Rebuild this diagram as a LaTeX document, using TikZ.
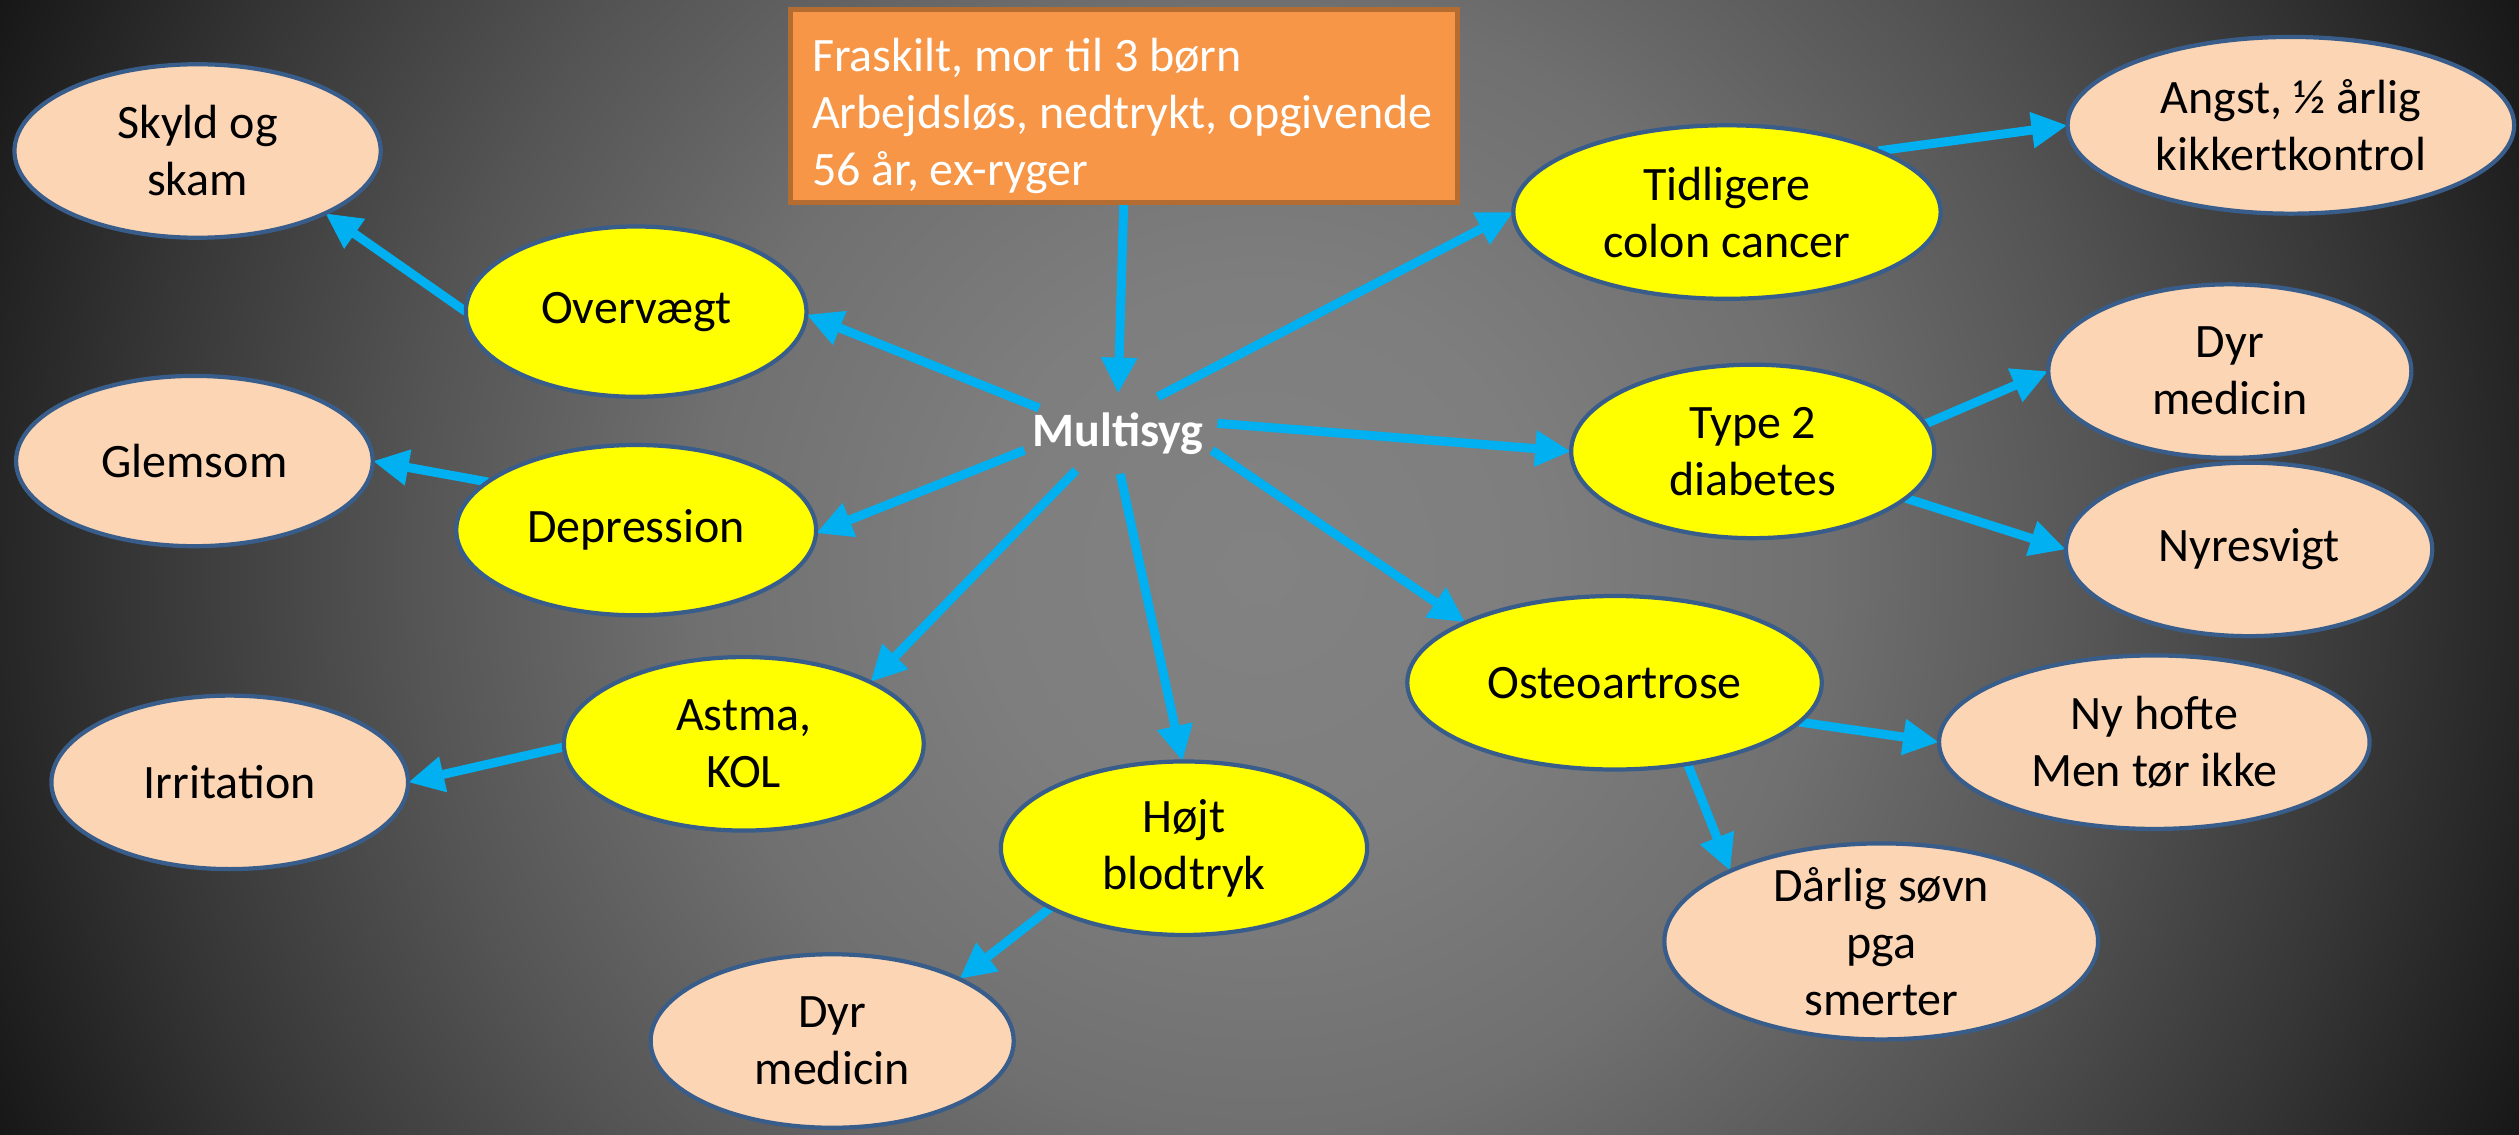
\documentclass[tikz,border=0pt]{standalone}
\usepackage{fontspec}
\setmainfont{Carlito}
\usetikzlibrary{shapes.geometric,arrows.meta}
\newcommand\pxu{0.016065cm}
\definecolor{arrowblue}{HTML}{00B0F0}
\definecolor{peach}{HTML}{FCD5B5}
\definecolor{yel}{HTML}{FFFF00}
\definecolor{edgeblue}{HTML}{385D8A}
\definecolor{boxorange}{HTML}{F79646}
\definecolor{boxedge}{HTML}{B46C30}
\definecolor{bgA}{gray}{0.51}
\definecolor{bgB}{gray}{0.494}
\definecolor{bgC}{gray}{0.439}
\definecolor{bgD}{gray}{0.333}
\definecolor{bgE}{gray}{0.212}
\definecolor{bgF}{gray}{0.102}
\definecolor{bgG}{gray}{0}
\pgfdeclareradialshading{bgshade}{\pgfpoint{0bp}{0bp}}{%
  color(0bp)=(bgA); color(5.09bp)=(bgB); color(10.18bp)=(bgC); color(15.27bp)=(bgD);
  color(20.37bp)=(bgE); color(24.55bp)=(bgF); color(28.29bp)=(bgG); color(60bp)=(bgG)}
\pgfdeclarelayer{bglayer}
\pgfdeclarelayer{arrowlayer}
\pgfsetlayers{bglayer,arrowlayer,main}
\begin{document}
\begin{tikzpicture}[x=\pxu, y=-\pxu,
  txt/.style={font=\fontsize{13.66pt}{16.22pt}\selectfont, align=center},
  ell/.style 2 args={ellipse, draw=edgeblue, line width=1.2pt, inner sep=0pt,
    outer sep=0pt, minimum width={#1*\pxu}, minimum height={#2*\pxu}, txt},
  cause/.style 2 args={ell={#1}{#2}, fill=yel},
  effect/.style 2 args={ell={#1}{#2}, fill=peach},
  arr/.style={draw=arrowblue, line width=2.55pt,
    -{Triangle[length=0.36cm, width=0.34cm]}},
]
\useasboundingbox (0,0) rectangle (1568,706);
\begin{pgfonlayer}{bglayer}
  \begin{scope}
    \clip (0,0) rectangle (1568,706);
    \shade[shading=bgshade] (-76,-507) rectangle (1644,1213);
  \end{scope}
\end{pgfonlayer}

% context box
\node[draw=boxedge, fill=boxorange, line width=1.4pt, inner sep=0pt, outer sep=0pt,
      minimum width={415*\pxu}, minimum height={120*\pxu}] (box) at (699.5,66) {};
\node[inner sep=0pt, text=white, font=\fontsize{13.66pt}{16.22pt}\selectfont, align=left]
  (boxtxt) at (698.5,72) {Fraskilt, mor til 3 børn\\Arbejdsløs, nedtrykt, opgivende\\56 år, ex-ryger};

% centre
\node[ellipse, inner xsep=-0.2cm, inner ysep=0pt, outer sep=0pt,
      minimum width={128*\pxu}, minimum height={50*\pxu}, text=white,
      font=\fontsize{13.66pt}{16.22pt}\selectfont\bfseries] (multi) at (696,270) {Multisyg};

% diseases
\node[cause={212}{106}] (overv) at (396,194) {Overvægt};
\node[cause={224}{106}] (depr) at (396,330) {Depression};
\node[cause={224}{108}] (astma) at (463,463) {Astma,\\KOL};
\node[cause={228}{108}] (hojt) at (737,528) {Højt\\blodtryk};
\node[cause={266}{108}] (tidl) at (1075,132) {Tidligere\\colon cancer};
\node[cause={226}{108}] (type2) at (1091,281) {Type 2\\diabetes};
\node[cause={258}{108}] (osteo) at (1005,425) {Osteoartrose};

% consequences
\node[effect={228}{108}] (skyld) at (123,94) {Skyld og\\skam};
\node[effect={222}{106}] (glem) at (121,287) {Glemsom};
\node[effect={222}{108}] (irr) at (143,487) {Irritation};
\node[effect={226}{108}] (dyr1) at (518,648) {Dyr\\medicin};
\node[effect={278}{110}] (angst) at (1426,78) {Angst, ½ årlig\\kikkertkontrol};
\node[effect={226}{108}] (dyr2) at (1388,231) {Dyr\\medicin};
\node[effect={228}{108}] (nyre) at (1400,342) {Nyresvigt};
\node[effect={268}{108}] (hofte) at (1341,462) {Ny hofte\\Men tør ikke};
\node[effect={270}{122}, inner ysep=-0.15cm] (darl) at (1171,586) {Dårlig søvn\\pga\\smerter};

\begin{pgfonlayer}{arrowlayer}
  \draw[arr] (box.south) -- (multi.90);
  \draw[arr] (multi.162) -- (overv.359);
  \draw[arr] (multi.190) -- (depr.359);
  \draw[arr] (multi.221) -- (astma.26);
  \draw[arr] (multi.273) -- (hojt.91);
  \draw[arr] (multi.350) -- (osteo.158);
  \draw[arr] (multi.6) -- (type2.180);
  \draw[arr] (multi.43) -- (tidl.180);
  \draw[arr] (overv.180) -- (skyld.334);
  \draw[arr] (depr.162) -- (glem.0);
  \draw[arr] (astma.181) -- (irr.0);
  \draw[arr] (hojt.204) -- (dyr1.26);
  \draw[arr] (tidl.22) -- (angst.180);
  \draw[arr] (type2.9) -- (dyr2.180);
  \draw[arr] (type2.343) -- (nyre.180);
  \draw[arr] (osteo.348) -- (hofte.180);
  \draw[arr] (osteo.312) -- (darl.155);
\end{pgfonlayer}
\end{tikzpicture}
\end{document}
